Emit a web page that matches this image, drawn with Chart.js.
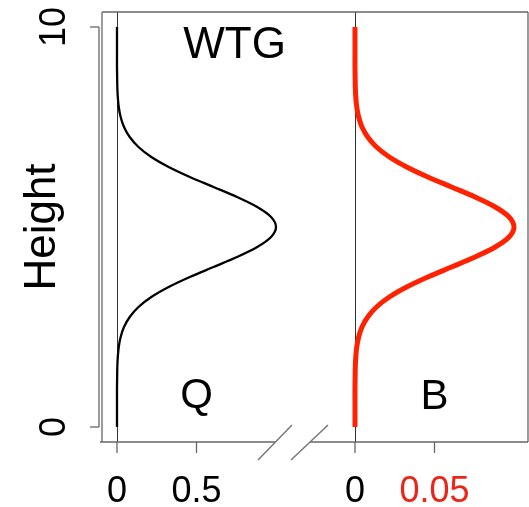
<!DOCTYPE html>
<html>
<head>
<meta charset="utf-8">
<script src="https://cdn.jsdelivr.net/npm/chart.js@4"></script>
<style>
  html, body { margin: 0; padding: 0; background: #fff; }
  canvas { display: block; }
</style>
</head>
<body>
<canvas id="heightChart" width="529" height="507"></canvas>
<script>
// Height levels (0 to 10) and the profile read at each level
const heights = [0, 0.25, 0.5, 0.75, 1, 1.25, 1.5, 1.75, 2, 2.25, 2.5, 2.75, 3, 3.25, 3.5, 3.75, 4, 4.25, 4.5, 4.75,
                 5, 5.25, 5.5, 5.75, 6, 6.25, 6.5, 6.75, 7, 7.25, 7.5, 7.75, 8, 8.25, 8.5, 8.75, 9, 9.25, 9.5, 9.75, 10];
const qValues = [0, 0, 0, 0, 0, 0.001, 0.002, 0.005, 0.011, 0.023, 0.044, 0.08, 0.135, 0.216, 0.325, 0.458, 0.607, 0.755, 0.882, 0.969,
                 1.0, 0.969, 0.882, 0.755, 0.607, 0.458, 0.325, 0.216, 0.135, 0.08, 0.044, 0.023, 0.011, 0.005, 0.002, 0.001, 0, 0, 0, 0, 0];
const bValues = [0, 0, 0, 0, 0, 0.0001, 0.0002, 0.0005, 0.0011, 0.0023, 0.0044, 0.008, 0.0135, 0.0216, 0.0325, 0.0458, 0.0607, 0.0755, 0.0882, 0.0969,
                 0.1, 0.0969, 0.0882, 0.0755, 0.0607, 0.0458, 0.0325, 0.0216, 0.0135, 0.008, 0.0044, 0.0023, 0.0011, 0.0005, 0.0002, 0.0001, 0, 0, 0, 0, 0];

const yTicks = [0, 10];
const qTicks = [0, 0.5];
const bTicks = [0, 0.05];
const qTickLabels = ['0', '0.5'];
const bTickLabels = ['0', '0.05'];

const RED = '#ff2200';
const RED_TEXT = '#e8261a';
const FONT = "'Liberation Sans', Arial, sans-serif";

function line(ctx, x1, y1, x2, y2) {
    ctx.beginPath();
    ctx.moveTo(x1, y1);
    ctx.lineTo(x2, y2);
    ctx.stroke();
}

// Box, axes, axis break and labels drawn around the two panels
const decorPlugin = {
    id: 'decor',
    beforeDatasetsDraw(chart) {
        const { ctx, chartArea: a, scales } = chart;
        ctx.save();
        // zero reference lines
        ctx.strokeStyle = '#333';
        ctx.lineWidth = 1;
        [scales.xq, scales.xb].forEach(s => {
            const px = Math.round(s.getPixelForValue(0)) + 0.5;
            line(ctx, px, a.top, px, a.bottom);
        });
        ctx.restore();
    },
    afterDatasetsDraw(chart) {
        const { ctx, chartArea: a, scales } = chart;
        const ys = scales.y, xq = scales.xq, xb = scales.xb;
        ctx.save();
        ctx.strokeStyle = '#666';
        ctx.lineWidth = 1.3;

        // box (bottom edge broken)
        const breakL = 275, breakR = 310;
        line(ctx, a.left, a.top, a.right, a.top);
        line(ctx, a.right, a.top, a.right, a.bottom);
        line(ctx, a.left, a.top, a.left, a.bottom);
        line(ctx, a.left - 2, a.bottom, breakL, a.bottom);
        line(ctx, breakR, a.bottom, a.right, a.bottom);

        // y axis
        const yAxisX = a.left - 3;
        line(ctx, yAxisX, ys.getPixelForValue(0), yAxisX, ys.getPixelForValue(10));
        ctx.fillStyle = '#000';
        ctx.font = '36px ' + FONT;
        ctx.textAlign = 'center';
        ctx.textBaseline = 'alphabetic';
        yTicks.forEach(v => {
            const py = ys.getPixelForValue(v);
            line(ctx, yAxisX - 9, py, yAxisX, py);
            ctx.save();
            ctx.translate(65, py);
            ctx.rotate(-Math.PI / 2);
            ctx.fillText(String(v), 0, 0);
            ctx.restore();
        });

        // y title
        ctx.save();
        ctx.font = '44px ' + FONT;
        ctx.translate(55, (ys.getPixelForValue(0) + ys.getPixelForValue(10)) / 2);
        ctx.rotate(-Math.PI / 2);
        ctx.fillText('Height', 0, 0);
        ctx.restore();

        // x ticks for both panels
        ctx.font = '36px ' + FONT;
        qTicks.forEach((v, i) => {
            const px = xq.getPixelForValue(v);
            line(ctx, px, a.bottom, px, a.bottom + 11);
            ctx.fillStyle = '#000';
            ctx.fillText(qTickLabels[i], px, 502);
        });
        bTicks.forEach((v, i) => {
            const px = xb.getPixelForValue(v);
            line(ctx, px, a.bottom, px, a.bottom + 11);
            ctx.fillStyle = i === 0 ? '#000' : RED_TEXT;
            ctx.fillText(bTickLabels[i], px, 502);
        });

        // axis break marks
        ctx.strokeStyle = '#777';
        ctx.lineWidth = 1.5;
        line(ctx, 258, a.bottom + 18, 292, a.bottom - 17);
        line(ctx, 291, a.bottom + 18, 328, a.bottom - 17);

        // panel labels
        ctx.fillStyle = '#000';
        ctx.font = '44px ' + FONT;
        ctx.fillText('WTG', xq.getPixelForValue(0.74), 58);
        ctx.font = '42px ' + FONT;
        ctx.fillText('Q', xq.getPixelForValue(0.5), 408);
        ctx.fillText('B', xb.getPixelForValue(0.05), 409);
        ctx.restore();
    }
};

const ctxHeight = document.getElementById('heightChart').getContext('2d');
new Chart(ctxHeight, {
    type: 'scatter',
    data: {
        datasets: [
            {
                label: 'Q',
                data: heights.map((h, i) => ({ x: qValues[i], y: h })),
                xAxisID: 'xq',
                yAxisID: 'y',
                showLine: true,
                borderColor: '#000',
                borderWidth: 2.3,
                pointRadius: 0,
                tension: 0.3
            },
            {
                label: 'B',
                data: heights.map((h, i) => ({ x: bValues[i], y: h })),
                xAxisID: 'xb',
                yAxisID: 'y',
                showLine: true,
                borderColor: RED,
                borderWidth: 5,
                pointRadius: 0,
                tension: 0.3
            }
        ]
    },
    options: {
        responsive: false,
        animation: false,
        layout: { padding: { left: 102, right: 1, top: 12, bottom: 65 } },
        plugins: { legend: { display: false }, tooltip: { enabled: false } },
        scales: {
            xq: { type: 'linear', axis: 'x', display: false, min: -0.0943, max: 2.585 },
            xb: { type: 'linear', axis: 'x', display: false, min: -0.1591, max: 0.1088 },
            y: { type: 'linear', display: false, min: -0.375, max: 10.375 }
        }
    },
    plugins: [decorPlugin]
});
</script>
</body>
</html>
